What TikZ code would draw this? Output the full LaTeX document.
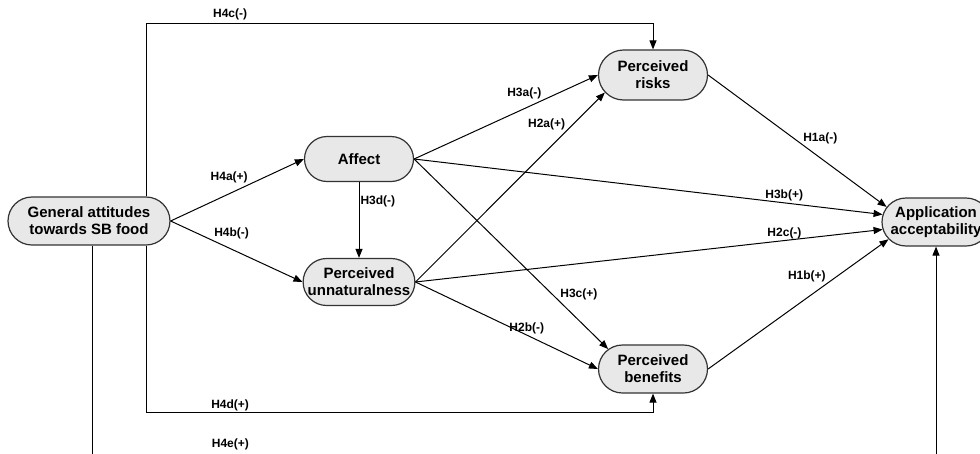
\documentclass[tikz,border=0pt]{standalone}
\usepackage{fontspec}
\setmainfont{Liberation Sans}
\usetikzlibrary{positioning,shapes.misc,arrows.meta}
\definecolor{pillfill}{HTML}{E8E8E8}
\definecolor{pillline}{HTML}{333333}

\begin{document}
\begin{tikzpicture}[x=1pt,y=1pt,
pill/.style={draw=pillline,fill=pillfill,rounded rectangle,line width=1.2pt,
minimum width=109pt,minimum height=47pt,inner sep=0pt,align=center,
font=\fontsize{15}{17}\selectfont\bfseries},
lbl/.style={font=\fontsize{12}{13}\selectfont\bfseries,inner sep=1pt},
arr/.style={line width=1pt,-{Triangle[length=9pt,width=7pt]}}]
\useasboundingbox (0,0) rectangle (980,-453);
\clip (0,0) rectangle (980,-453);
% constructs
\node[pill,minimum width=162pt,minimum height=48pt] (gen) at (89,-221) {General attitudes\\towards SB food};
\node[pill,minimum height=45pt] (aff) at (359,-159) {Affect};
\node[pill] (unn) at (359,-282) {Perceived\\unnaturalness};
\node[pill,minimum height=50pt] (risk) at (653,-75) {Perceived\\risks};
\node[pill,minimum height=48pt] (ben) at (653,-369) {Perceived\\benefits};
\node[pill,minimum width=108pt,minimum height=48pt] (acc) at (936,-222) {Application\\acceptability};
% hypotheses
\draw[arr] (gen.east) -- node[lbl,pos=0.59,anchor=south east]{H4a(+)} (aff.west);
\draw[arr] (gen.east) -- node[lbl,pos=0.32,anchor=south west]{H4b(-)} (unn.west);
\draw[arr] (aff.south) -- node[lbl,pos=0.26,right]{H3d(-)} (unn.north);
\draw[arr] (aff.east) -- node[lbl,pos=0.70,anchor=south east]{H3a(-)} (risk.west);
\draw[arr] (unn.east) -- node[lbl,pos=0.83,left=6pt]{H2a(+)} (risk.200);
\draw[arr] (aff.east) -- node[lbl,pos=0.79,above]{H3b(+)} (acc.172);
\draw[arr] (unn.east) -- node[lbl,pos=0.79,above]{H2c(-)} (acc.188);
\draw[arr] (aff.east) -- node[lbl,pos=0.71,right=7pt]{H3c(+)} (ben.156);
\draw[arr] (unn.east) -- node[lbl,pos=0.61,above]{H2b(-)} (ben.west);
\draw[arr] (risk.east) -- node[lbl,pos=0.48,right=8pt]{H1a(-)} (acc.163);
\draw[arr] (ben.east) -- node[lbl,pos=0.66,anchor=south east]{H1b(+)} (acc.200);
% direct paths from general attitudes
\draw[arr] ([xshift=57pt]gen.north) -- ++(0,173) -| node[lbl,pos=0.083,above=2pt]{H4c(-)} (risk.north);
\draw[arr] ([xshift=57pt]gen.south) -- ++(0,-167) -| node[lbl,pos=0.083,above]{H4d(+)} (ben.south);
\draw[arr] ([xshift=3pt]gen.south) -- ++(0,-215) -| node[lbl,pos=0.082,above=9pt]{H4e(+)} (acc.south);
\end{tikzpicture}
\end{document}
